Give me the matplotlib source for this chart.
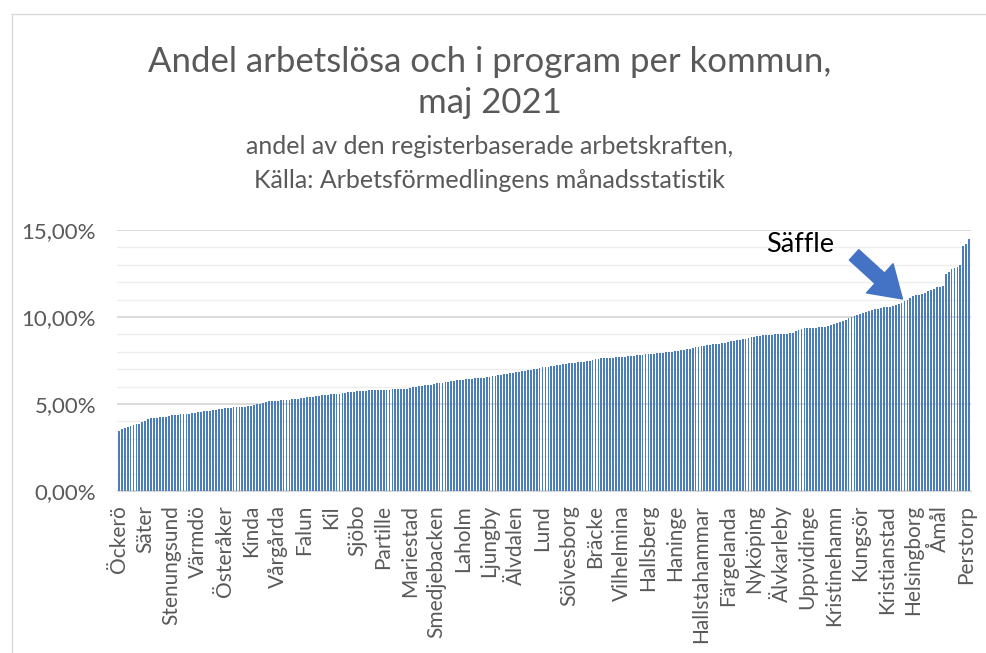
import matplotlib
matplotlib.use("Agg")
import matplotlib.pyplot as plt
from matplotlib.ticker import FuncFormatter, MultipleLocator
import numpy as np

# Values in percent, sorted ascending (290 municipalities)
values = [
    3.45, 3.55, 3.62, 3.68, 3.72, 3.78, 3.85, 3.85, 3.95, 4.05,
    4.15, 4.2, 4.2, 4.2, 4.25, 4.28, 4.28, 4.3, 4.35, 4.35,
    4.38, 4.4, 4.4, 4.42, 4.45, 4.47, 4.5, 4.52, 4.55, 4.57,
    4.6, 4.62, 4.65, 4.68, 4.7, 4.72, 4.75, 4.77, 4.78, 4.8,
    4.8, 4.82, 4.82, 4.85, 4.88, 4.9, 4.95, 5.0, 5.02, 5.05,
    5.1, 5.15, 5.17, 5.2, 5.2, 5.22, 5.22, 5.25, 5.25, 5.27,
    5.28, 5.3, 5.33, 5.36, 5.38, 5.4, 5.42, 5.45, 5.47, 5.5,
    5.5, 5.52, 5.55, 5.57, 5.58, 5.6, 5.62, 5.65, 5.67, 5.69,
    5.7, 5.72, 5.74, 5.75, 5.76, 5.78, 5.79, 5.8, 5.8, 5.82,
    5.82, 5.83, 5.83, 5.84, 5.84, 5.85, 5.85, 5.86, 5.86, 5.9,
    5.95, 6.0, 6.02, 6.05, 6.07, 6.09, 6.12, 6.15, 6.18, 6.2,
    6.22, 6.25, 6.28, 6.3, 6.33, 6.36, 6.38, 6.4, 6.43, 6.45,
    6.46, 6.48, 6.49, 6.5, 6.52, 6.55, 6.58, 6.6, 6.63, 6.66,
    6.69, 6.72, 6.74, 6.77, 6.8, 6.82, 6.85, 6.88, 6.9, 6.93,
    6.96, 7.0, 7.03, 7.06, 7.1, 7.12, 7.15, 7.18, 7.2, 7.23,
    7.26, 7.3, 7.32, 7.34, 7.36, 7.38, 7.4, 7.42, 7.43, 7.46,
    7.5, 7.54, 7.57, 7.6, 7.62, 7.63, 7.65, 7.66, 7.67, 7.68,
    7.7, 7.71, 7.72, 7.73, 7.75, 7.78, 7.8, 7.82, 7.84, 7.85,
    7.87, 7.88, 7.9, 7.91, 7.93, 7.95, 7.97, 7.98, 8.0, 8.03,
    8.06, 8.09, 8.12, 8.15, 8.18, 8.21, 8.25, 8.28, 8.31, 8.35,
    8.37, 8.4, 8.42, 8.45, 8.47, 8.49, 8.52, 8.56, 8.6, 8.63,
    8.66, 8.68, 8.72, 8.76, 8.8, 8.84, 8.87, 8.9, 8.92, 8.94,
    8.96, 8.97, 8.98, 9.0, 9.01, 9.02, 9.03, 9.05, 9.06, 9.1,
    9.17, 9.24, 9.3, 9.35, 9.36, 9.37, 9.38, 9.39, 9.4, 9.4,
    9.42, 9.48, 9.55, 9.62, 9.67, 9.72, 9.78, 9.85, 9.92, 10.0,
    10.07, 10.13, 10.2, 10.25, 10.3, 10.35, 10.4, 10.45, 10.48, 10.5,
    10.55, 10.58, 10.6, 10.65, 10.7, 10.75, 10.82, 10.9, 11.0, 11.1,
    11.2, 11.25, 11.28, 11.3, 11.4, 11.5, 11.55, 11.6, 11.7, 11.75,
    11.8, 12.5, 12.6, 12.75, 12.8, 12.9, 13.0, 14.1, 14.2, 14.5,
]

# Visible category labels (every 9th municipality)
tick_labels = [
    "Öckerö", "Säter", "Stenungsund", "Värmdö", "Österåker", "Kinda",
    "Vårgårda", "Falun", "Kil", "Sjöbo", "Partille", "Mariestad",
    "Smedjebacken", "Laholm", "Ljungby", "Älvdalen", "Lund", "Sölvesborg",
    "Bräcke", "Vilhelmina", "Hallsberg", "Haninge", "Hallstahammar",
    "Färgelanda", "Nyköping", "Älvkarleby", "Uppvidinge", "Kristinehamn",
    "Kungsör", "Kristianstad", "Helsingborg", "Åmål", "Perstorp",
]
label_step = 9
highlight_name = "Säffle"
highlight_index = 267

title_lines = ["Andel arbetslösa och i program per kommun,", "maj 2021"]
subtitle_lines = ["andel av den registerbaserade arbetskraften,",
                  "Källa: Arbetsförmedlingens månadsstatistik"]

plt.rcParams['font.family'] = ['Lato', 'DejaVu Sans']

W, H = 987, 653
fig = plt.figure(figsize=(W/100, H/100), dpi=100)
ax = fig.add_axes([117/W, 1 - 491/H, (971 - 117)/W, (491 - 230)/H])

y = np.array(values) / 100.0
x = np.arange(len(y))
ax.bar(x, y, width=0.62, color="#4A7DBA", zorder=2)

ax.set_xlim(-0.6, len(y) - 0.4)
ax.set_ylim(0, 0.15)
ax.yaxis.set_major_locator(MultipleLocator(0.05))
ax.yaxis.set_minor_locator(MultipleLocator(0.01))
ax.yaxis.set_major_formatter(FuncFormatter(lambda v, p: f"{v*100:.2f}%".replace(".", ",")))
ax.grid(axis="y", which="major", color="#D9D9D9", linewidth=1.3, zorder=0)
ax.grid(axis="y", which="minor", color="#EEEEEE", linewidth=1.0, zorder=0)
for s in ["top", "right", "left"]:
    ax.spines[s].set_visible(False)
ax.spines["bottom"].set_color("#D9D9D9")
ax.tick_params(axis="y", which="both", length=0, labelsize=16, labelcolor="#595959", pad=15)

pos = list(range(0, len(y), label_step))[:len(tick_labels)]
ax.set_xticks(pos)
ax.set_xticklabels(tick_labels, rotation=90, fontsize=15, color="#595959")
ax.tick_params(axis="x", length=0, pad=10)

fig.text(490/W, 1 - 62/H, title_lines[0], ha="center", va="center", fontsize=25, color="#595959")
fig.text(490/W, 1 - 103/H, title_lines[1], ha="center", va="center", fontsize=25, color="#595959")
fig.text(490/W, 1 - 146/H, subtitle_lines[0], ha="center", va="center", fontsize=18, color="#595959")
fig.text(490/W, 1 - 180/H, subtitle_lines[1], ha="center", va="center", fontsize=18, color="#595959")

# Annotation arrow
ax.annotate("", xy=(highlight_index, y[highlight_index] + 0.0003), xycoords="data",
            xytext=(852/W, 1 - 253/H), textcoords="figure fraction",
            arrowprops=dict(arrowstyle="simple,head_width=1.35,head_length=1.05,tail_width=0.48",
                            color="#4472C4", mutation_scale=21), zorder=5)
fig.text(800/W, 1 - 245/H, highlight_name, ha="center", va="center", fontsize=19.5, color="black")

# chart border
fig.add_artist(plt.Line2D([12/W, 12/W], [0, 1 - 14/H], transform=fig.transFigure, color="#D9D9D9", lw=1))
fig.add_artist(plt.Line2D([12/W, 1], [1 - 14/H, 1 - 14/H], transform=fig.transFigure, color="#D9D9D9", lw=1))

fig.savefig("out.png", dpi=100)
